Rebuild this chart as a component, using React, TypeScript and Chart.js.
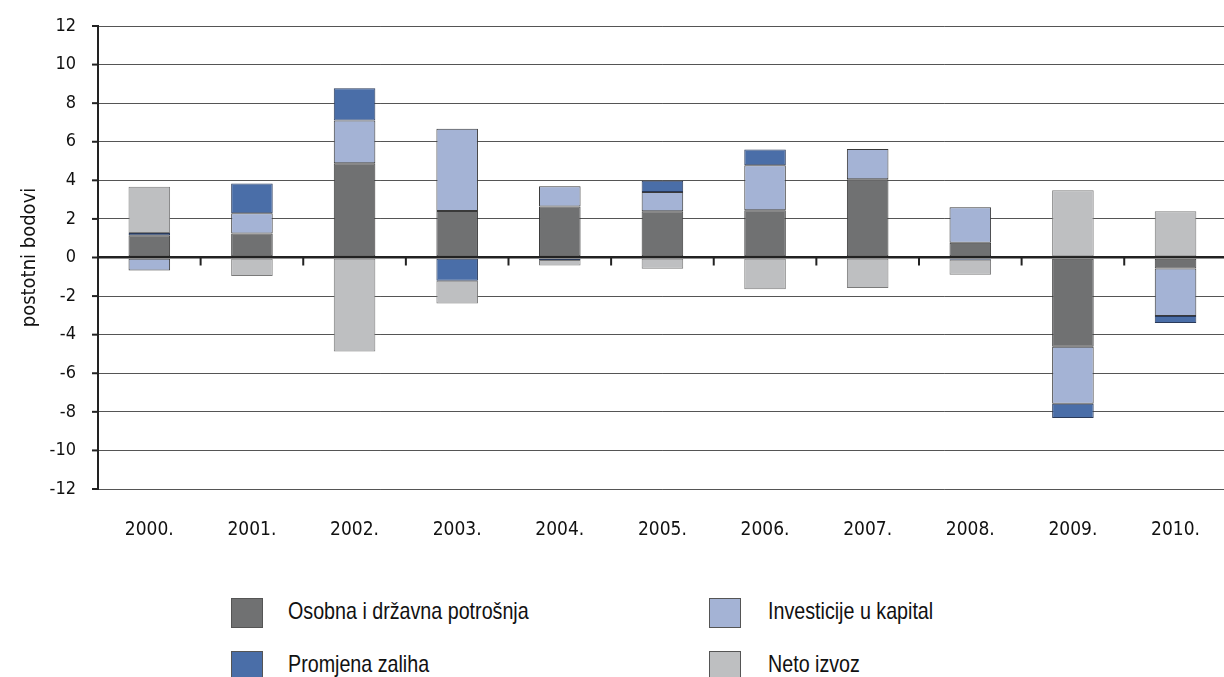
import React, { useEffect, useRef } from 'react';
import { Chart, registerables } from 'chart.js';

Chart.register(...registerables);

const categories = ['2000.', '2001.', '2002.', '2003.', '2004.', '2005.', '2006.', '2007.', '2008.', '2009.', '2010.'];
const osobna = [1.15, 1.24, 4.88, 2.41, 2.65, 2.4, 2.45, 4.05, 0.76, -4.63, -0.57];
const investicije = [-0.67, 1.05, 2.22, 4.26, 1.04, 1.0, 2.33, 1.57, 1.84, -2.95, -2.46];
const zalihe = [0.12, 1.55, 1.67, -1.2, -0.13, 0.58, 0.82, 0.0, -0.12, -0.74, -0.36];
const neto = [2.4, -0.96, -4.87, -1.18, -0.28, -0.58, -1.65, -1.58, -0.77, 3.48, 2.4];
const yTicks = [-12, -10, -8, -6, -4, -2, 0, 2, 4, 6, 8, 10, 12];

const seriesNames = ['Osobna i državna potrošnja', 'Investicije u kapital', 'Promjena zaliha', 'Neto izvoz'];
const seriesColors = ['#707172', '#a4b3d5', '#4a6ea8', '#bebfc1'];
const seriesBorders = ['#3a3a3a', '#3a3a3a', '#2a3a5a', '#7a7a7a'];

const FONT = '"DejaVu Sans Condensed", "Liberation Sans Narrow", sans-serif';
const LEGEND_FONT = '"Liberation Sans", Arial, sans-serif';

const tickPlugin = {
  id: 'axisTicks',
  afterDraw(chart: any) {
    const { ctx, chartArea } = chart;
    const x = chart.scales.x;
    const y = chart.scales.y;
    ctx.save();
    ctx.strokeStyle = '#222';
    ctx.lineWidth = 2;
    const zero = y.getPixelForValue(0);
    for (let i = 1; i < categories.length; i++) {
      const px = (x.getPixelForValue(i - 1) + x.getPixelForValue(i)) / 2;
      ctx.beginPath();
      ctx.moveTo(px, zero);
      ctx.lineTo(px, zero + 8);
      ctx.stroke();
    }
    for (const v of yTicks) {
      const py = y.getPixelForValue(v);
      ctx.beginPath();
      ctx.moveTo(chartArea.left - 6, py);
      ctx.lineTo(chartArea.left, py);
      ctx.stroke();
    }
    ctx.restore();
  },
};

export default function App() {
  const ref = useRef<HTMLCanvasElement>(null);
  useEffect(() => {
    const values = [osobna, investicije, zalihe, neto];
    const chart = new Chart(ref.current as HTMLCanvasElement, {
      type: 'bar',
      data: {
        labels: categories,
        datasets: values.map((d, i) => ({
          label: seriesNames[i],
          data: d,
          backgroundColor: seriesColors[i],
          borderColor: seriesBorders[i],
          borderWidth: 1,
          borderSkipped: false,
          barPercentage: 0.405,
          categoryPercentage: 1,
        })),
      },
      options: {
        responsive: false,
        animation: false,
        devicePixelRatio: 1,
        layout: { padding: { left: 18, top: 26, right: 0, bottom: 0 } },
        plugins: { legend: { display: false }, tooltip: { enabled: false } },
        scales: {
          x: {
            stacked: true,
            offset: true,
            grid: { display: false, drawTicks: false },
            border: { display: false },
            ticks: { color: '#111', font: { family: FONT, size: 19 }, padding: 30, maxRotation: 0, autoSkip: false },
            afterFit: (s: any) => {
              s.height = 63;
            },
          },
          y: {
            stacked: true,
            min: -12,
            max: 12,
            ticks: { stepSize: 2, padding: 22, color: '#111', font: { family: FONT, size: 18 } },
            grid: {
              drawTicks: false,
              color: (c: any) => (c.tick && c.tick.value === 0 ? '#222' : '#555'),
              lineWidth: (c: any) => (c.tick && c.tick.value === 0 ? 2.5 : 1),
            },
            border: { color: '#222', width: 2 },
            title: { display: true, text: 'postotni bodovi', color: '#111', font: { family: FONT, size: 20 }, padding: 0 },
            afterFit: (s: any) => {
              s.width = 80;
              s.paddingTop = 0;
              s.paddingBottom = 0;
            },
          },
        },
      },
      plugins: [tickPlugin],
    });
    return () => chart.destroy();
  }, []);

  const legendPos = [
    { sq: [231, 598], tx: 288 },
    { sq: [709, 598], tx: 768 },
    { sq: [231, 651], tx: 288 },
    { sq: [709, 651], tx: 768 },
  ];

  return (
    <div style={{ position: 'absolute', left: 0, top: 0, width: 1224, height: 677, overflow: 'hidden', background: '#fff' }}>
      <canvas ref={ref} width={1230} height={552} style={{ position: 'absolute', left: 0, top: 0, width: 1230, height: 552 }} />
      {legendPos.map((p, i) => (
        <React.Fragment key={i}>
          <div
            style={{
              position: 'absolute',
              left: p.sq[0],
              top: p.sq[1],
              width: 30,
              height: 28,
              background: seriesColors[i],
              border: '1px solid #555',
            }}
          />
          <div
            style={{
              position: 'absolute',
              left: p.tx,
              top: p.sq[1] - 2,
              height: 30,
              lineHeight: '30px',
              fontFamily: LEGEND_FONT,
              fontSize: 24,
              color: '#111',
              whiteSpace: 'nowrap',
              transform: 'scaleX(0.82)',
              transformOrigin: 'left center',
            }}
          >
            {seriesNames[i]}
          </div>
        </React.Fragment>
      ))}
    </div>
  );
}
